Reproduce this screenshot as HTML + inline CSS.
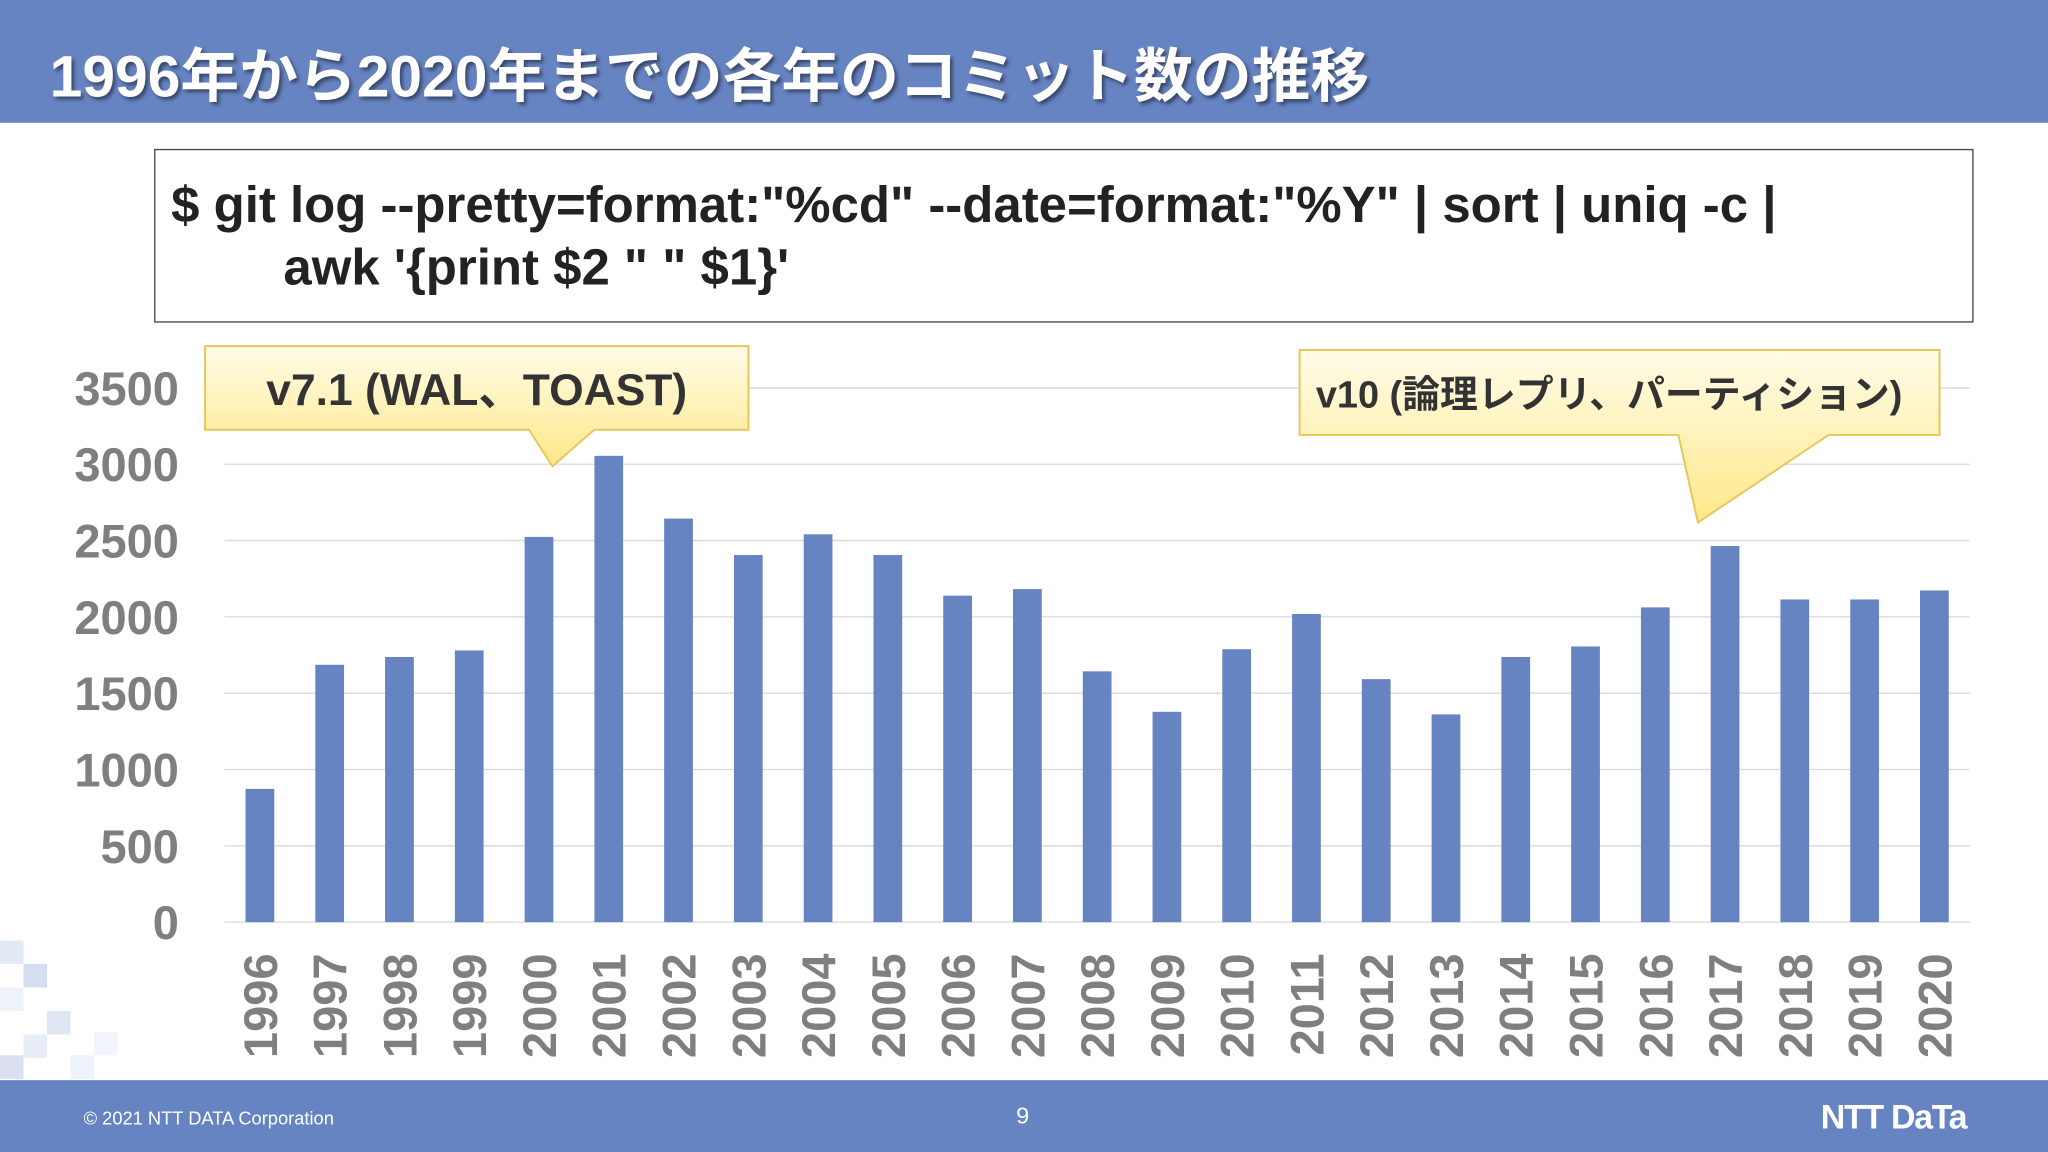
<!DOCTYPE html>
<html><head><meta charset="utf-8">
<style>
html,body{margin:0;padding:0;background:#fff;}
#wrap{width:2048px;height:1152px;overflow:hidden;position:relative;}
#s{width:1568px;height:882px;position:absolute;left:0;top:0;transform:scale(1.306122);transform-origin:0 0;font-family:"Liberation Sans","Noto Sans CJK JP",sans-serif;}
.hdr{position:absolute;left:0;top:0;width:1568px;height:94px;background:#6683c2;}
.title{position:absolute;left:38px;top:22px;color:#fff;font-size:45px;font-weight:bold;text-shadow:2px 2px 3px rgba(0,0,0,.45);white-space:nowrap;}
.code{position:absolute;left:118px;top:114px;width:1393px;height:133px;border:1.5px solid #444;box-sizing:border-box;font-size:39px;font-weight:bold;color:#222;line-height:48px;padding:19px 0 0 12px;white-space:nowrap;}
.ftr{position:absolute;left:0;top:827px;width:1568px;height:55px;background:#6683c2;color:#fff;}
</style></head><body>
<div id="wrap"><div id="s">
<div class="hdr"></div>
<div class="title">1996年から2020年までの各年のコミット数の推移</div>
<div class="code">$ git log --pretty=format:"%cd" --date=format:"%Y" | sort | uniq -c |<br><span style="padding-left:86px">awk '{print $2 " " $1}'</span></div>
<svg id="chart" width="1568" height="882" style="position:absolute;left:0;top:0"></svg>
<div class="ftr">
<div style="position:absolute;left:64px;top:21px;font-size:14px">© 2021 NTT DATA Corporation</div>
<div style="position:absolute;left:778px;top:17px;font-size:18px">9</div>
<div style="position:absolute;left:1394px;top:13px;font-size:26px;font-weight:bold;letter-spacing:-1px">NTT DaTa</div>
</div>
</div></div>
<script>
const years=['1996','1997','1998','1999','2000','2001','2002','2003','2004','2005','2006','2007','2008','2009','2010','2011','2012','2013','2014','2015','2016','2017','2018','2019','2020'];
const commits=[873,1686,1737,1780,2524,3055,2644,2405,2541,2405,2139,2182,1643,1378,1788,2019,1592,1361,1737,1806,2062,2464,2114,2114,2173];
const yTicks=[0,500,1000,1500,2000,2500,3000,3500];
const NS='http://www.w3.org/2000/svg';
const svg=document.getElementById('chart');
function mk(t,a,p){const e=document.createElementNS(NS,t);for(const k in a)e.setAttribute(k,a[k]);(p||svg).appendChild(e);return e;}
const y=v=>706-v*(409/3500);
const x=i=>199+i*(1282/24);
[[0,720,18,'#e3eaf5'],[18,738,18,'#d5def0'],[0,756,18,'#eef2f9'],[36,774,18,'#dfe6f3'],[18,792,18,'#e8edf7'],[0,808,18,'#d9e1f1'],[54,808,18,'#eef2f9'],[72,790,18,'#f2f5fb']].forEach(s=>{const r=mk('rect',{x:s[0],y:s[1],width:s[2],height:s[2],fill:s[3]});
});
yTicks.forEach(t=>{
 const l=mk('line',{x1:172,x2:1508,y1:y(t),y2:y(t),stroke:'#d9d9d9','stroke-width':1});
 
 const tx=mk('text',{x:137,y:y(t)+13,'text-anchor':'end','font-size':36,'font-weight':'bold',fill:'#7f7f7f','font-family':'Liberation Sans'});
 tx.textContent=t;
 
});
years.forEach((yr,i)=>{
 const b=mk('rect',{x:x(i)-11,y:y(commits[i]),width:22,height:706-y(commits[i]),fill:'#6683c2'});
 
 const t=mk('text',{x:0,y:0,transform:`translate(${x(i)+13},730) rotate(-90)`,'text-anchor':'end','font-size':36,'font-weight':'bold',fill:'#7f7f7f','font-family':'Liberation Sans'});
 t.textContent=yr;
 
});
const defs=mk('defs',{});
const g=mk('linearGradient',{id:'yg',x1:0,y1:0,x2:0,y2:1},defs);
mk('stop',{offset:'0','stop-color':'#fffce8'},g);mk('stop',{offset:'1','stop-color':'#ffe88a'},g);
function callout(pts,tx,ty,label,name,fs){
 const p=mk('polygon',{points:pts,fill:'url(#yg)',stroke:'#e9c55a','stroke-width':1.5});
 
 const t=mk('text',{x:tx,y:ty,'text-anchor':'middle','font-size':fs,'font-weight':'bold',fill:'#333','font-family':'Liberation Sans, Noto Sans CJK JP, sans-serif'});
 t.textContent=label;
}
callout('157,265 573,265 573,329 455,329 423,357 405,329 157,329',365,310,'v7.1 (WAL、TOAST)','callout-v71',34);
callout('995,268 1485,268 1485,333 1400,333 1300,400 1285,333 995,333',1232,312,'v10 (論理レプリ、パーティション)','callout-v10',29);
</script>
</body></html>
